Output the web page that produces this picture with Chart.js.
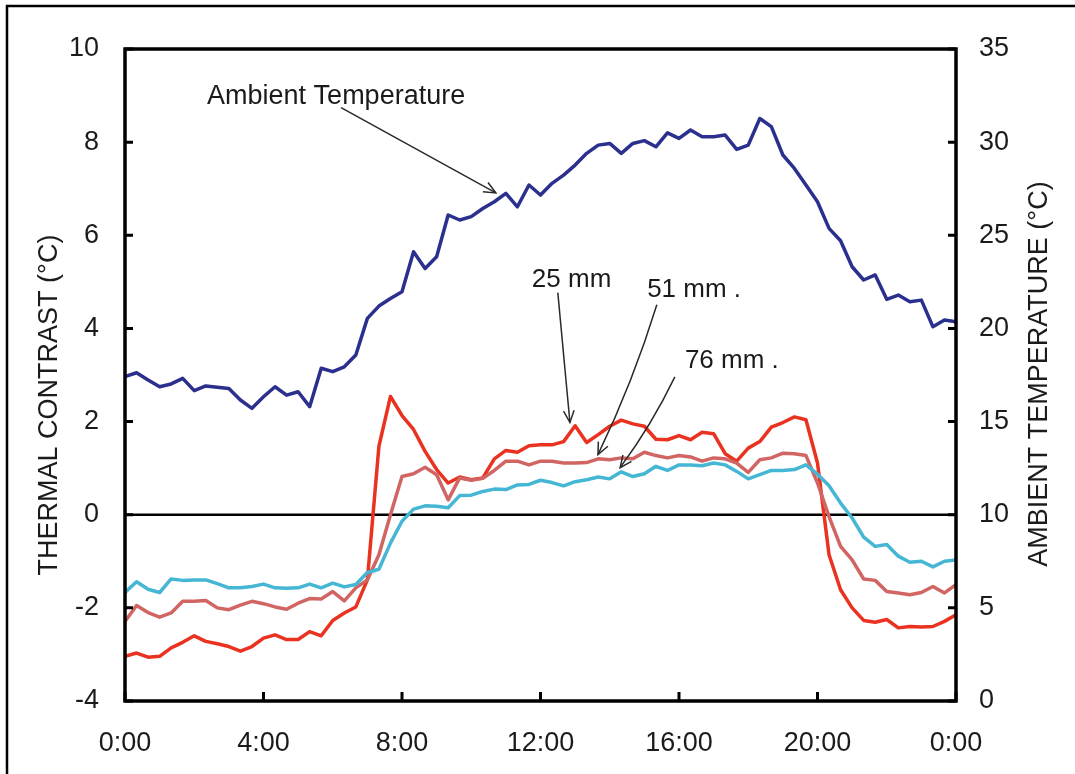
<!DOCTYPE html>
<html>
<head>
<meta charset="utf-8">
<script src="https://cdn.jsdelivr.net/npm/chart.js@4/dist/chart.umd.min.js"></script>
<style>
  html, body { margin: 0; padding: 0; background: #fff; }
  #wrap { position: relative; width: 1075px; height: 774px; }
</style>
</head>
<body>
<div id="wrap"><canvas id="contrastChart"></canvas></div>
<script>
// time of day in hours, one reading every 20 minutes
const hours = Array.from({ length: 73 }, (_, i) => i / 3);

// ambient air temperature, °C (right axis)
const ambient = [
  17.41, 17.62, 17.23, 16.87, 17.02, 17.32, 16.66, 16.91, 16.84, 16.78,
  16.16, 15.71, 16.33, 16.87, 16.42, 16.60, 15.80, 17.86, 17.68, 17.94,
  18.57, 20.54, 21.20, 21.61, 21.97, 24.12, 23.22, 23.85, 26.09, 25.82,
  26.00, 26.44, 26.80, 27.25, 26.53, 27.70, 27.16, 27.79, 28.23, 28.77,
  29.40, 29.84, 29.93, 29.40, 29.93, 30.08, 29.75, 30.50, 30.20, 30.65,
  30.29, 30.29, 30.38, 29.61, 29.84, 31.27, 30.83, 29.31, 28.59, 27.70,
  26.80, 25.37, 24.71, 23.31, 22.60, 22.87, 21.56, 21.79, 21.43, 21.52,
  20.09, 20.45, 20.36
];

// thermal contrast at 25 mm depth, °C
const depth25 = [
  -3.04, -2.97, -3.06, -3.04, -2.86, -2.74, -2.60, -2.72, -2.77, -2.83,
  -2.93, -2.83, -2.65, -2.58, -2.68, -2.68, -2.51, -2.60, -2.27, -2.11,
  -1.98, -1.40, 1.47, 2.54, 2.13, 1.83, 1.36, 0.97, 0.68, 0.81,
  0.75, 0.79, 1.20, 1.38, 1.34, 1.48, 1.50, 1.50, 1.57, 1.91,
  1.55, 1.72, 1.90, 2.03, 1.95, 1.90, 1.62, 1.61, 1.70, 1.61,
  1.77, 1.74, 1.31, 1.15, 1.43, 1.57, 1.88, 1.98, 2.10, 2.04,
  1.11, -0.86, -1.61, -2.00, -2.27, -2.31, -2.25, -2.43, -2.40, -2.41,
  -2.40, -2.29, -2.15
];

// thermal contrast at 51 mm depth, °C
const depth51 = [
  -2.29, -1.95, -2.10, -2.20, -2.11, -1.86, -1.86, -1.84, -2.00, -2.04,
  -1.94, -1.86, -1.91, -1.98, -2.03, -1.90, -1.80, -1.81, -1.65, -1.85,
  -1.57, -1.40, -0.86, 0.00, 0.82, 0.88, 1.02, 0.86, 0.32, 0.79,
  0.74, 0.78, 0.95, 1.15, 1.15, 1.07, 1.15, 1.15, 1.11, 1.11,
  1.12, 1.20, 1.18, 1.22, 1.20, 1.34, 1.27, 1.22, 1.27, 1.24,
  1.15, 1.22, 1.20, 1.11, 0.91, 1.18, 1.22, 1.32, 1.31, 1.27,
  0.68, -0.04, -0.68, -0.97, -1.38, -1.41, -1.65, -1.68, -1.72, -1.67,
  -1.54, -1.68, -1.50
];

// thermal contrast at 76 mm depth, °C
const depth76 = [
  -1.67, -1.44, -1.60, -1.67, -1.38, -1.41, -1.40, -1.40, -1.48, -1.57,
  -1.57, -1.54, -1.49, -1.57, -1.58, -1.57, -1.49, -1.57, -1.47, -1.55,
  -1.50, -1.24, -1.17, -0.61, -0.14, 0.12, 0.19, 0.18, 0.15, 0.41,
  0.42, 0.50, 0.55, 0.54, 0.64, 0.65, 0.74, 0.69, 0.62, 0.71,
  0.75, 0.81, 0.77, 0.92, 0.82, 0.88, 1.04, 0.95, 1.07, 1.07,
  1.05, 1.11, 1.07, 0.93, 0.77, 0.86, 0.95, 0.95, 0.97, 1.07,
  0.87, 0.62, 0.25, -0.07, -0.48, -0.68, -0.64, -0.89, -1.02, -1.00,
  -1.12, -1.00, -0.97
];

const xTicks = [0, 4, 8, 12, 16, 20, 24];
const leftTicks = [-4, -2, 0, 2, 4, 6, 8, 10];
const rightTicks = [0, 5, 10, 15, 20, 25, 30, 35];

// callouts: text anchor, arrow start and arrow tip in [hour, contrast] units
const callouts = [
  { text: 'Ambient Temperature', at: [2.37, 8.98], from: [6.24, 8.74], to: [10.71, 6.91], bend: 0, size: 27 },
  { text: '25 mm', at: [11.75, 5.05], from: [12.5, 4.77], to: [12.85, 1.98], bend: 0, size: 26 },
  { text: '51 mm .', at: [15.08, 4.83], from: [15.36, 4.51], to: [13.66, 1.29], bend: 6, size: 26 },
  { text: '76 mm .', at: [16.17, 3.31], from: [15.88, 2.96], to: [14.30, 1.01], bend: 5, size: 26 }
];

const FONT = '"Liberation Sans", Arial, Helvetica, sans-serif';
const INK = '#1b1b1b';

function series(values) {
  return values.map((v, i) => ({ x: hours[i], y: v }));
}

function arrowHead(ctx, x, y, angle) {
  const len = 13, spread = 0.42;
  ctx.beginPath();
  ctx.moveTo(x - len * Math.cos(angle - spread), y - len * Math.sin(angle - spread));
  ctx.lineTo(x, y);
  ctx.lineTo(x - len * Math.cos(angle + spread), y - len * Math.sin(angle + spread));
  ctx.stroke();
}

const decor = {
  id: 'decor',
  beforeDatasetsDraw(chart) {
    const { ctx, chartArea: a, scales } = chart;
    const y0 = scales.y.getPixelForValue(0);
    ctx.save();
    ctx.strokeStyle = '#000';
    ctx.lineWidth = 2.5;
    ctx.beginPath();
    ctx.moveTo(a.left, y0);
    ctx.lineTo(a.right, y0);
    ctx.stroke();
    ctx.restore();
  },
  afterDatasetsDraw(chart) {
    const { ctx, chartArea: a, scales } = chart;
    ctx.save();
    ctx.strokeStyle = '#000';
    ctx.lineWidth = 3.5;
    ctx.strokeRect(a.left, a.top, a.right - a.left, a.bottom - a.top);

    // inward tick marks
    ctx.lineWidth = 3;
    ctx.beginPath();
    leftTicks.forEach(v => {
      const py = scales.y.getPixelForValue(v);
      ctx.moveTo(a.left, py);
      ctx.lineTo(a.left + 8, py);
    });
    rightTicks.forEach(v => {
      const py = scales.y1.getPixelForValue(v);
      ctx.moveTo(a.right, py);
      ctx.lineTo(a.right - 8, py);
    });
    xTicks.forEach(h => {
      const px = scales.x.getPixelForValue(h);
      ctx.moveTo(px, a.bottom);
      ctx.lineTo(px, a.bottom - 9);
    });
    ctx.stroke();
    ctx.restore();
  },
  afterDraw(chart) {
    const { ctx, scales } = chart;
    ctx.save();

    // outer figure frame
    ctx.strokeStyle = '#000';
    ctx.lineWidth = 2.5;
    ctx.beginPath();
    ctx.moveTo(7, 790);
    ctx.lineTo(7, 6);
    ctx.lineTo(1090, 6);
    ctx.stroke();

    // axis titles, both reading bottom to top
    ctx.fillStyle = INK;
    ctx.font = '27px ' + FONT;
    ctx.textAlign = 'center';
    ctx.textBaseline = 'middle';
    ctx.save();
    ctx.translate(50, 405);
    ctx.rotate(-Math.PI / 2);
    ctx.fillText('THERMAL CONTRAST (°C)', 0, 0);
    ctx.restore();
    ctx.save();
    ctx.translate(1040, 374);
    ctx.rotate(-Math.PI / 2);
    ctx.fillText('AMBIENT TEMPERATURE (°C)', 0, 0);
    ctx.restore();

    // callouts with arrows
    ctx.textAlign = 'left';
    ctx.strokeStyle = '#2a2a2a';
    ctx.lineWidth = 1.5;
    callouts.forEach(c => {
      ctx.font = c.size + 'px ' + FONT;
      const tx = scales.x.getPixelForValue(c.at[0]);
      const ty = scales.y.getPixelForValue(c.at[1]);
      ctx.fillText(c.text, tx, ty);
      const x1 = scales.x.getPixelForValue(c.from[0]);
      const y1 = scales.y.getPixelForValue(c.from[1]);
      const x2 = scales.x.getPixelForValue(c.to[0]);
      const y2 = scales.y.getPixelForValue(c.to[1]);
      const mx = (x1 + x2) / 2, my = (y1 + y2) / 2;
      const len = Math.hypot(x2 - x1, y2 - y1);
      const cx = mx + c.bend * (y2 - y1) / len;
      const cy = my - c.bend * (x2 - x1) / len;
      ctx.beginPath();
      ctx.moveTo(x1, y1);
      ctx.quadraticCurveTo(cx, cy, x2, y2);
      ctx.stroke();
      arrowHead(ctx, x2, y2, Math.atan2(y2 - cy, x2 - cx));
    });
    ctx.restore();
  }
};

const tickFont = { family: FONT, size: 27 };

new Chart(document.getElementById('contrastChart'), {
  type: 'line',
  data: {
    datasets: [
      { label: 'Ambient Temperature', data: series(ambient), yAxisID: 'y1', borderColor: '#2b2f8d', borderWidth: 3.5 },
      { label: '76 mm', data: series(depth76), yAxisID: 'y', borderColor: '#45b6d4', borderWidth: 3.5 },
      { label: '51 mm', data: series(depth51), yAxisID: 'y', borderColor: '#d06563', borderWidth: 3.5 },
      { label: '25 mm', data: series(depth25), yAxisID: 'y', borderColor: '#ea3220', borderWidth: 3.5 }
    ]
  },
  options: {
    responsive: true,
    maintainAspectRatio: false,
    animation: false,
    layout: { padding: { top: 49, left: 0, right: 0, bottom: 0 } },
    elements: { point: { radius: 0 }, line: { tension: 0, borderJoinStyle: 'round', borderCapStyle: 'round' } },
    plugins: { legend: { display: false }, tooltip: { enabled: false } },
    scales: {
      x: {
        type: 'linear',
        min: 0,
        max: 24,
        afterFit: s => { s.height = 73; },
        afterBuildTicks: s => { s.ticks = xTicks.map(v => ({ value: v })); },
        grid: { display: false },
        border: { display: false },
        ticks: {
          padding: 18,
          color: INK,
          font: tickFont,
          maxRotation: 0,
          callback: v => (v % 24) + ':00'
        }
      },
      y: {
        position: 'left',
        min: -4,
        max: 10,
        afterFit: s => { s.width = 125; },
        afterBuildTicks: s => { s.ticks = leftTicks.map(v => ({ value: v })); },
        grid: { display: false },
        border: { display: false },
        ticks: { padding: 18, color: INK, font: tickFont }
      },
      y1: {
        position: 'right',
        min: 0,
        max: 35,
        afterFit: s => { s.width = 119; },
        afterBuildTicks: s => { s.ticks = rightTicks.map(v => ({ value: v })); },
        grid: { display: false },
        border: { display: false },
        ticks: { padding: 15, color: INK, font: tickFont }
      }
    }
  },
  plugins: [decor]
});
</script>
</body>
</html>
